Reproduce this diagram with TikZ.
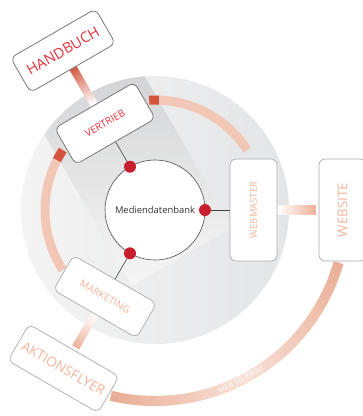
\documentclass[tikz,border=0pt]{standalone}
\usepackage{fontspec}
\setmainfont{Open Sans}
\usetikzlibrary{calc}
\pgfdeclarelayer{back}
\pgfdeclarelayer{mid}
\pgfsetlayers{back,mid,main}
\definecolor{discL}{HTML}{F4F4F4}
\definecolor{discR}{HTML}{E4E5E7}
\definecolor{beamL}{HTML}{F6F6F6}
\definecolor{beamM}{HTML}{E6E6E7}
\definecolor{beamD}{HTML}{C6C7C9}
\definecolor{ringC}{HTML}{F2C7B6}
\definecolor{tickC}{HTML}{D4533D}
\definecolor{outD}{HTML}{EAAE96}
\definecolor{outL}{HTML}{F8E1D7}
\definecolor{redT}{HTML}{E8313B}
\definecolor{salT}{HTML}{F4B49B}
\definecolor{dotC}{HTML}{C81E2D}
\definecolor{bordD}{HTML}{6A6A6A}
\definecolor{bordL}{HTML}{ABABAB}
\definecolor{barR}{HTML}{D45A44}
\definecolor{barS}{HTML}{EFB39C}
\newcommand\fsz[1]{\fontsize{#1pt}{#1pt}\selectfont}
\newcommand\mygradbar[5]{%
  \foreach \i in {0,...,23}{%
    \pgfmathsetmacro\pa{\i/24}%
    \pgfmathsetmacro\pb{min(1,(\i+1.2)/24)}%
    \pgfmathsetmacro\pc{100-\i*100/23}%
    \draw[line width=#3, color=#4!\pc!#5] ($(#1)!\pa!(#2)$) -- ($(#1)!\pb!(#2)$);
  }}
\tikzset{
  box/.style={draw, rounded corners=6pt, fill=white, line width=0.7pt, inner sep=0pt},
  darkbox/.style={box, draw=bordD, text=redT},
  lightbox/.style={box, draw=bordL, text=salT},
  dot/.style={circle, fill=dotC, minimum size=12pt, inner sep=0pt},
  conn/.style={draw=black!75, line width=0.6pt},
  ringarc/.style={line width=9pt, draw=ringC},
  tickarc/.style={line width=9pt, draw=tickC},
}
\begin{document}
\begin{tikzpicture}[x=1pt,y=1pt]
\useasboundingbox (0,0) rectangle (363,-416);
\coordinate (C) at (155,-210);

% disc and beam
\begin{pgfonlayer}{back}
\begin{scope}
\clip (C) circle (134);
\shade[left color=discL, right color=discR] ($(C)+(-134,-134)$) rectangle ($(C)+(134,134)$);
\shade[shading angle=-110, top color=beamD, middle color=beamM, bottom color=beamL]
  ($(C)+(-60:54)+(30:58)$) -- ($(C)+(-60:54)+(30:-58)$) -- ($(C)+(-60:-220)+(30:-58)$) -- ($(C)+(-60:-220)+(30:58)$) -- cycle;
\end{scope}
\end{pgfonlayer}

% central node and dots
\node[circle, draw=black!70, line width=0.6pt, fill=white, minimum size=100pt, inner sep=0pt, text=black!80, font=\fsz{9.4}] (db) at (C) {Mediendatenbank};
\node[dot] (d1) at ($(C)+(120:50)$) {};
\node[dot] (d2) at ($(C)+(240:50)$) {};
\node[dot] (d3) at ($(C)+(0:50)$) {};

% boxes
\node[darkbox, minimum width=92pt, minimum height=42pt, rotate=30, font=\fsz{10}] (vert) at ($(C)+(120:100)$) {VERTRIEB};
\node[darkbox, minimum width=98pt, minimum height=40pt, rotate=30, font=\fsz{14.5}] (hand) at ($(C)+(120:184)$) {HANDBUCH};
\node[lightbox, minimum width=96pt, minimum height=40pt, rotate=-30, font=\fsz{10}] (mark) at ($(C)+(240:100)$) {MARKETING};
\node[lightbox, minimum width=104pt, minimum height=42pt, rotate=-30, font=\fsz{13.6}] (akt) at ($(C)+(240:183)$) {AKTIONSFLYER};
\node[lightbox, minimum width=102pt, minimum height=47pt, rotate=90, font=\fsz{9.5}] (wm) at ($(C)+(0:98.5)$) {WEBMASTER};
\node[lightbox, minimum width=102pt, minimum height=47pt, rotate=90, font=\fsz{13.3}] (ws) at ($(C)+(0:187.5)$) {WEBSITE};

% thin connectors
\draw[conn] (d1) -- (vert);
\draw[conn] (d2) -- (mark);
\draw[conn] (d3) -- (wm);

\coordinate (b2e) at ($(akt.north)!3pt!(mark.south)$);
\coordinate (b3e) at ($(ws.north)!3pt!(wm.south)$);

\begin{pgfonlayer}{mid}
% inner ring
\draw[ringarc] ($(C)+(93:110)$) arc[start angle=93, end angle=33, radius=110];
\draw[tickarc] ($(C)+(93:110)$) arc[start angle=93, end angle=88, radius=110];
\draw[ringarc] ($(C)+(147:110)$) arc[start angle=147, end angle=213, radius=110];
\draw[tickarc] ($(C)+(147:110)$) arc[start angle=147, end angle=153, radius=110];
% outer arc
\foreach \a in {-16,-17,...,-102}{
  \pgfmathsetmacro\t{ifthenelse(\a>-62,(\a+62)/46*100,(-62-\a)/40*100)}
  \draw[line width=10pt, color=outD!\t!outL] ($(C)+(\a:191)$) arc[start angle=\a, end angle=\a-1.4, radius=191];
}
% gradient bars
\mygradbar{hand.south}{vert.north}{8pt}{barR}{white}
\mygradbar{mark.south}{b2e}{8pt}{white}{barS}
\mygradbar{wm.south}{b3e}{10pt}{white}{barS}
\end{pgfonlayer}

\node[text=white, rotate=27, font=\fsz{7.5}] (wtp) at ($(C)+(-63:190)$) {WEB TO PRINT};
\end{tikzpicture}
\end{document}
